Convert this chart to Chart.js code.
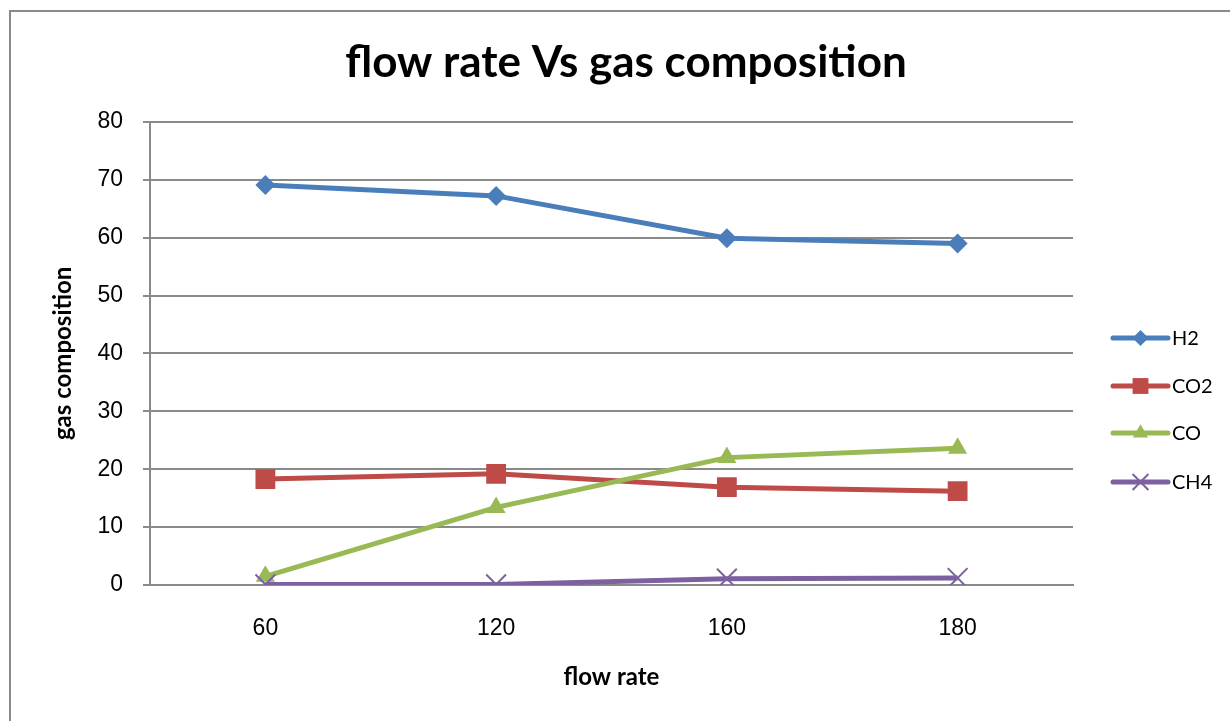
<!DOCTYPE html>
<html>
<head>
<meta charset="utf-8">
<script src="https://cdn.jsdelivr.net/npm/chart.js@4/dist/chart.umd.min.js"></script>
<style>
  html, body { margin: 0; padding: 0; background: #fff; }
  #wrap { position: relative; width: 1230px; height: 721px; overflow: hidden; }
  #frame { position: absolute; left: 9px; top: 10px; width: 1400px; height: 800px;
           border-left: 2px solid #8a8a8a; border-top: 2px solid #8a8a8a; pointer-events: none; }
  canvas { position: absolute; left: 0; top: 0; }
</style>
</head>
<body>
<div id="wrap">
  <canvas id="c" width="1230" height="721"></canvas>
  <div id="frame"></div>
</div>
<script>
const categories = ['60', '120', '160', '180'];
const seriesNames = ['H2', 'CO2', 'CO', 'CH4'];
const h2  = [69.1, 67.2, 59.9, 59.0];
const co2 = [18.3, 19.2, 16.9, 16.2];
const co  = [1.5, 13.4, 22.0, 23.6];
const ch4 = [0.1, 0.1, 1.1, 1.2];
const yTicks = [0, 10, 20, 30, 40, 50, 60, 70, 80];

const colors = ['#4A7EBB', '#BE4B48', '#98B954', '#7D60A0'];
const styles = ['rectRot', 'rect', 'triangle', 'crossRot'];
const radii = [10, 14, 11, 14];
const values = [h2, co2, co, ch4];

const datasets = seriesNames.map((n, i) => ({
  label: n,
  data: values[i],
  order: seriesNames.length - i,
  borderColor: colors[i],
  backgroundColor: colors[i],
  borderWidth: 5,
  pointStyle: styles[i],
  pointRadius: radii[i],
  pointHoverRadius: radii[i],
  pointBorderWidth: i === 3 ? 2 : 0,
  pointBorderColor: colors[i],
  pointBackgroundColor: colors[i],
  tension: 0,
  fill: false
}));

const legendPlugin = {
  id: 'sideLegend',
  afterDraw(chart) {
    const ctx = chart.ctx;
    const x0 = 1113, x1 = 1168, tx = 1172;
    const ys = [338, 386, 433, 482];
    chart.data.datasets.forEach((ds, i) => {
      const y = ys[i];
      ctx.save();
      ctx.strokeStyle = ds.borderColor;
      ctx.lineWidth = 5;
      ctx.lineCap = 'round';
      ctx.beginPath(); ctx.moveTo(x0, y); ctx.lineTo(x1, y); ctx.stroke();
      ctx.lineCap = 'butt';
      ctx.fillStyle = ds.pointBackgroundColor;
      ctx.strokeStyle = ds.pointBorderColor;
      ctx.lineWidth = ds.pointBorderWidth;
      Chart.helpers.drawPoint(ctx, {
        pointStyle: ds.pointStyle,
        radius: ds.pointRadius * 0.8,
        borderWidth: ds.pointBorderWidth
      }, (x0 + x1) / 2, y);
      ctx.fillStyle = '#000';
      ctx.font = '20px Lato';
      ctx.textBaseline = 'middle';
      ctx.textAlign = 'left';
      ctx.fillText(ds.label, tx, y + 1);
      ctx.restore();
    });
  }
};

new Chart(document.getElementById('c'), {
  type: 'line',
  data: { labels: categories, datasets },
  plugins: [legendPlugin],
  options: {
    responsive: false,
    animation: false,
    layout: { padding: { left: 22, right: 0, top: 0, bottom: 0 } },
    plugins: {
      legend: { display: false },
      tooltip: { enabled: false },
      title: {
        display: true,
        text: 'flow rate Vs gas composition',
        color: '#000',
        font: { family: 'Lato', size: 44, weight: 'bold', lineHeight: 1.2 },
        padding: { top: 36, bottom: 33 }
      }
    },
    scales: {
      x: {
        type: 'category',
        offset: true,
        grid: { display: false, drawTicks: false },
        border: { display: true, color: '#8a8a8a', width: 2 },
        ticks: { color: '#000', font: { family: 'Liberation Sans', size: 23 }, padding: 30 },
        title: {
          display: true, text: 'flow rate', color: '#000',
          font: { family: 'Lato', size: 24, weight: 'bold', lineHeight: 1.2 },
          padding: { top: 0, bottom: 29 }
        },
        afterFit(s) { s.height = 136; }
      },
      y: {
        min: 0, max: 80,
        afterBuildTicks(s) { s.ticks = yTicks.map(v => ({ value: v })); },
        grid: { color: '#8a8a8a', lineWidth: 2, drawTicks: true, tickLength: 7 },
        border: { display: true, color: '#8a8a8a', width: 2 },
        ticks: { color: '#000', font: { family: 'Liberation Sans', size: 23 }, padding: 20 },
        title: {
          display: true, text: 'gas composition', color: '#000',
          font: { family: 'Lato', size: 24, weight: 'bold', lineHeight: 1.2 },
          padding: { top: 27, bottom: 0 }
        },
        afterFit(s) { s.width = 128; }
      },
      spacer: {
        type: 'linear',
        position: 'right',
        display: true,
        grid: { display: false, drawTicks: false },
        border: { display: false },
        ticks: { display: false },
        afterFit(s) { s.width = 157; }
      }
    }
  }
});
</script>
</body>
</html>
